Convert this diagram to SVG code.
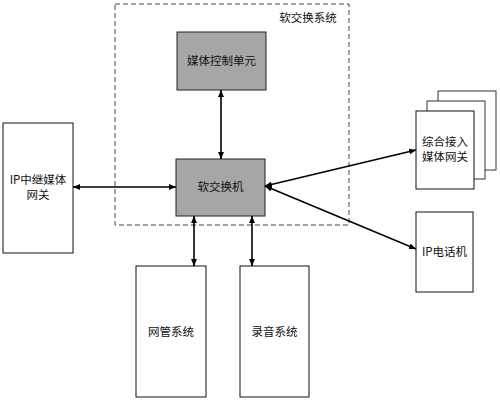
<svg xmlns="http://www.w3.org/2000/svg" width="500" height="403" viewBox="0 0 500 403">
<style>
.box{fill:#fff;stroke:#111;stroke-width:1}
.gbox{fill:#a6a6a6;stroke:#222;stroke-width:1}
.t{font-family:"Noto Sans CJK SC","Liberation Sans",sans-serif;font-size:11.5px;fill:#111;text-anchor:middle}
.c{stroke:#000;stroke-width:1.6;fill:none;marker-start:url(#a);marker-end:url(#a)}
</style>
<defs>
<marker id="a" viewBox="0 0 10 10" refX="10" refY="5" markerWidth="7" markerHeight="6" markerUnits="userSpaceOnUse" orient="auto-start-reverse" preserveAspectRatio="none">
<path d="M0,0 L10,5 L0,10 Z" fill="#000"/>
</marker>
</defs>
<rect width="500" height="403" fill="#fff"/>
<g id="softswitch-system">
<rect x="115" y="4" width="234" height="221" fill="none" stroke="#444" stroke-width="1" stroke-dasharray="5,3"/>
<text class="t" x="308" y="22">软交换系统</text>
</g>
<g id="media-control-unit">
<rect class="gbox" x="177" y="32" width="89" height="58"/>
<text class="t" x="221.5" y="65">媒体控制单元</text>
</g>
<g id="softswitch">
<rect class="gbox" x="176" y="159" width="89" height="57"/>
<text class="t" x="220.5" y="191">软交换机</text>
</g>
<g id="ip-trunk-gateway">
<rect class="box" x="3" y="123" width="70" height="130"/>
<text class="t" x="38" y="184">IP中继媒体</text>
<text class="t" x="38" y="199">网关</text>
</g>
<g id="nms">
<rect class="box" x="136" y="266" width="70" height="131"/>
<text class="t" x="171" y="336">网管系统</text>
</g>
<g id="recording">
<rect class="box" x="240" y="266" width="69" height="131"/>
<text class="t" x="274.5" y="336">录音系统</text>
</g>
<g id="access-gateway">
<rect x="438" y="91" width="58" height="79" fill="#fff" stroke="#333" stroke-width="1"/>
<rect x="427" y="101" width="58" height="78" fill="#fff" stroke="#333" stroke-width="1"/>
<rect class="box" x="416" y="111" width="58" height="78"/>
<text class="t" x="445" y="146">综合接入</text>
<text class="t" x="445" y="161">媒体网关</text>
</g>
<g id="ip-phone">
<rect class="box" x="416" y="212" width="57" height="80"/>
<text class="t" x="444.5" y="256">IP电话机</text>
</g>
<g id="connectors">
<line class="c" x1="221" y1="90" x2="221" y2="159"/>
<line class="c" x1="73" y1="187" x2="176" y2="187"/>
<line class="c" x1="194" y1="216" x2="194" y2="266"/>
<line class="c" x1="252" y1="216" x2="252" y2="266"/>
<line class="c" x1="265" y1="186" x2="416" y2="150"/>
<line class="c" x1="265" y1="186" x2="416" y2="249"/>
</g>
</svg>
